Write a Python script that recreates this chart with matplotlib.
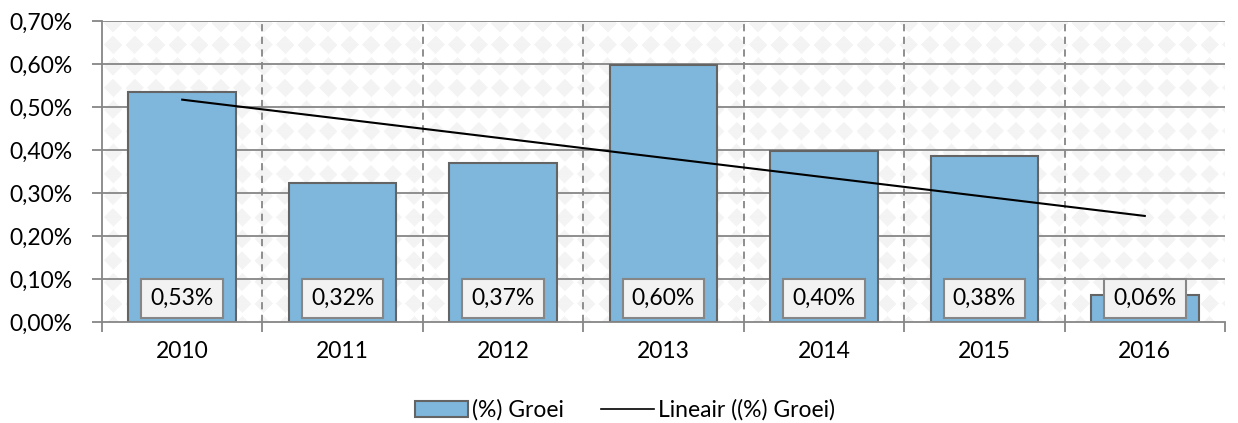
import numpy as np
import matplotlib
matplotlib.use('Agg')
import matplotlib.pyplot as plt
from matplotlib.patches import Patch
from matplotlib.lines import Line2D

plt.rcParams['font.family'] = ['Lato', 'DejaVu Sans']

years = ['2010', '2011', '2012', '2013', '2014', '2015', '2016']
groei = [0.535, 0.323, 0.370, 0.598, 0.398, 0.386, 0.063]   # in %
labels = ['0,53%', '0,32%', '0,37%', '0,60%', '0,40%', '0,38%', '0,06%']
yticks = [0.0, 0.1, 0.2, 0.3, 0.4, 0.5, 0.6, 0.7]

W, H = 1238, 423
fs = 16.5
fig = plt.figure(figsize=(W / 100, H / 100), dpi=100)
ax = fig.add_axes([102 / W, (H - 322) / H, (1225 - 102) / W, (322 - 21) / H])

x = np.arange(len(years))
ax.set_xlim(-0.5, len(years) - 0.5)
ax.set_ylim(0, 0.7)

# diamond background pattern
pw, ph = 1123, 301
P = 21.5
yy, xx = np.mgrid[0:ph, 0:pw]
dx = np.abs((xx % P) - P / 2)
dy = np.abs(((yy + 8) % P) - P / 2)
d = dx + dy
pat = np.where(d < P * 0.42, 0.955, 1.0)
ax.imshow(pat, cmap='gray', vmin=0, vmax=1, extent=(-0.5, len(years) - 0.5, 0, 0.7),
          aspect='auto', zorder=0, interpolation='bilinear')

grid_c = '#868686'
for t in yticks[1:]:
    ax.axhline(t, color=grid_c, lw=1.3, zorder=1)
for b in np.arange(0.5, len(years) - 1, 1):
    ax.axvline(b, color=grid_c, lw=1.3, ls=(0, (4, 3)), zorder=1)

ax.bar(x, groei, width=0.67, color='#7eb6dc', edgecolor='#646464', lw=1.5, zorder=2)

# linear trend
k, m = np.polyfit(x, groei, 1)
ax.plot(x, k * x + m, color='black', lw=1.5, zorder=3)

for xi, lab in zip(x, labels):
    ax.text(xi, 0.055, lab, ha='center', va='center', fontsize=fs, zorder=4,
            bbox=dict(boxstyle='square,pad=0.4', fc='#f2f2f2', ec='#868686', lw=1.5))

for s in ['top', 'right']:
    ax.spines[s].set_visible(False)
for s in ['left', 'bottom']:
    ax.spines[s].set_color(grid_c)
    ax.spines[s].set_linewidth(1.3)

ax.set_yticks(yticks)
ax.set_yticklabels([('%.2f%%' % v).replace('.', ',') for v in yticks], fontsize=fs)
ax.set_xticks(x)
ax.set_xticklabels(years, fontsize=fs)
ax.tick_params(axis='x', length=0, pad=14)
ax.set_xticks(np.arange(-0.5, len(years), 1), minor=True)
ax.tick_params(axis='x', which='minor', length=7, color=grid_c, width=1.3)
ax.tick_params(axis='y', length=7, color=grid_c, width=1.3, pad=14)

handles = [Patch(fc='#7eb6dc', ec='#646464', lw=1.5),
           Line2D([0], [0], color='black', lw=1.2)]
fig.legend(handles, ['(%) Groei', 'Lineair ((%) Groei)'], loc='center',
           bbox_to_anchor=(0.505, 0.03), ncol=2, frameon=False, fontsize=fs,
           handlelength=2.3, handleheight=0.7, handletextpad=0.2, columnspacing=1.6)

fig.savefig('out.png', dpi=100)
